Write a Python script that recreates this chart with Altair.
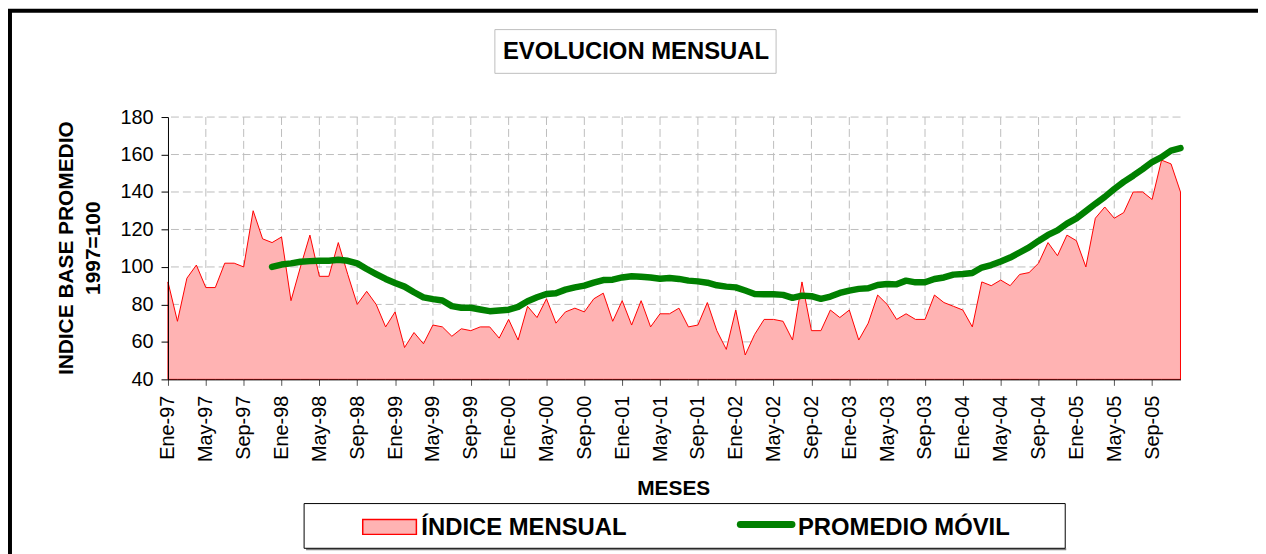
import altair as alt
import pandas as pd

# ---------------- data ----------------
indice_mensual = [
    92, 71, 94, 101, 89, 89, 102, 102, 100, 130, 115, 113,
    116, 82, 100, 117, 95, 95, 113, 96, 80, 87, 80, 68,
    76, 57, 65, 59, 69, 68, 63, 67, 66, 68, 68, 62,
    72, 61, 79, 73, 83, 70, 76, 78, 76, 83, 86, 71,
    82, 69, 82, 68, 75, 75, 78, 68, 69, 81, 66, 56,
    77, 53, 64, 72, 72, 71, 61, 92, 66, 66, 77, 73,
    77, 61, 70, 85, 80, 72, 75, 72, 72, 85, 81, 79,
    77, 68, 92, 90, 93, 90, 96, 97, 102, 113, 106, 117,
    114, 100, 126, 132, 126, 129, 140, 140, 136, 157, 155, 140,
]

# moving average, starts at month index 11 (Dic-97)
promedio_inicio = 11
promedio_movil = [
    100, 101.3, 101.9, 102.8, 103.1, 103.3, 103.3, 103.8, 103.3, 101.9, 98.9, 96.2,
    93.6, 91.4, 89.5, 86.5, 83.8, 82.8, 82.1, 79.1, 78.2, 78.2, 77.3, 76.4,
    76.8, 77.2, 78.7, 81.7, 83.8, 85.6, 86.0, 87.9, 89.1, 90.0, 91.6, 93.0,
    93.2, 94.4, 95.0, 94.8, 94.4, 93.7, 94.1, 93.6, 92.7, 92.3, 91.6, 90.2,
    89.5, 89.1, 87.4, 85.6, 85.4, 85.4, 85.1, 83.5, 84.7, 84.4, 83.0, 84.2,
    86.1, 87.4, 88.3, 88.6, 90.4, 90.9, 90.7, 92.7, 91.8, 91.8, 93.6, 94.4,
    95.9, 96.2, 96.8, 99.7, 101.0, 102.9, 105.0, 107.7, 110.4, 113.9, 117.1, 119.5,
    123.1, 125.9, 129.8, 133.7, 137.4, 141.6, 145.4, 148.7, 152.2, 156.0, 158.6, 162.1,
    163.4,
]

tick_labels = [
    "Ene-97", "May-97", "Sep-97", "Ene-98", "May-98", "Sep-98",
    "Ene-99", "May-99", "Sep-99", "Ene-00", "May-00", "Sep-00",
    "Ene-01", "May-01", "Sep-01", "Ene-02", "May-02", "Sep-02",
    "Ene-03", "May-03", "Sep-03", "Ene-04", "May-04", "Sep-04",
    "Ene-05", "May-05", "Sep-05",
]
y_ticks = [40, 60, 80, 100, 120, 140, 160, 180]

titulo = "EVOLUCION MENSUAL"
y_titulo = ["INDICE BASE PROMEDIO", "1997=100"]
x_titulo = "MESES"
leyenda = ["ÍNDICE MENSUAL", "PROMEDIO MÓVIL"]

# ---------------- tables ----------------
df = pd.DataFrame({"mes": list(range(len(indice_mensual))), "indice": indice_mensual})
df_ma = pd.DataFrame({
    "mes": list(range(promedio_inicio, promedio_inicio + len(promedio_movil))),
    "promedio": promedio_movil,
})
x_tick_values = [4 * k for k in range(len(tick_labels))]
df_xgrid = pd.DataFrame({"mes": x_tick_values[1:]})
df_ygrid = pd.DataFrame({"valor": y_ticks[1:]})

PINK = "#FFB3B3"
RED = "#FF0000"
GREEN = "#008000"
GRID = "#BDBDBD"

xscale = alt.Scale(domain=[0, len(indice_mensual) - 1], nice=False, zero=False)
yscale = alt.Scale(domain=[40, 180], nice=False, zero=False)

label_expr = "[" + ",".join(f"'{t}'" for t in tick_labels) + "][round(datum.value / 4)]"

x_axis = alt.Axis(
    values=x_tick_values, labelExpr=label_expr, labelAngle=270,
    labelAlign="right", labelBaseline="middle", labelFontSize=20,
    labelColor="black", labelPadding=10, tickSize=6, tickColor="#555555",
    domainColor="black", grid=False, title=None, zindex=1, labelOverlap=False,
)
y_axis = alt.Axis(
    values=y_ticks, labelFontSize=20, labelColor="black", labelPadding=8,
    tickSize=7, tickColor="black", domainColor="black", grid=False,
    title=None, zindex=1,
)

area = alt.Chart(df).mark_area(fill=PINK, stroke=RED, strokeWidth=1, fillOpacity=1).encode(
    x=alt.X("mes:Q", scale=xscale, axis=x_axis),
    y=alt.Y("indice:Q", scale=yscale, axis=y_axis),
    y2=alt.datum(40),
)

grid_y = alt.Chart(df_ygrid).mark_rule(color=GRID, strokeWidth=1, strokeDash=[8, 4]).encode(
    y=alt.Y("valor:Q", scale=yscale, axis=y_axis)
)
grid_x = alt.Chart(df_xgrid).mark_rule(color=GRID, strokeWidth=1, strokeDash=[8, 4]).encode(
    x=alt.X("mes:Q", scale=xscale, axis=x_axis)
)

line = alt.Chart(df_ma).mark_line(
    color=GREEN, strokeWidth=6.5, strokeCap="round", strokeJoin="round"
).encode(
    x=alt.X("mes:Q", scale=xscale, axis=x_axis),
    y=alt.Y("promedio:Q", scale=yscale, axis=y_axis),
)

one = alt.Data(values=[{"a": 1}])
OX, OY = 169, 116  # page position of plot origin


def px(v):
    return alt.value(v - OX)


def py(v):
    return alt.value(v - OY)


border = alt.Chart(one).mark_rect(filled=False, stroke="black", strokeWidth=4).encode(
    x=px(10), x2=px(1400), y=py(9), y2=py(700)
)

title_box = alt.Chart(one).mark_rect(fill="white", stroke="#BDBDBD", strokeWidth=1).encode(
    x=px(498), x2=px(781), y=py(28), y2=py(72)
)
title_txt = alt.Chart(one).mark_text(
    text=titulo, fontSize=24, fontWeight="bold", align="center", baseline="alphabetic", color="black"
).encode(x=px(640), y=py(58))

ytit1 = alt.Chart(one).mark_text(
    text=y_titulo[0], fontSize=21, fontWeight="bold", angle=270, align="center",
    baseline="alphabetic", color="black"
).encode(x=px(73), y=py(248))
ytit2 = alt.Chart(one).mark_text(
    text=y_titulo[1], fontSize=21, fontWeight="bold", angle=270, align="center",
    baseline="alphabetic", color="black"
).encode(x=px(101), y=py(248))

xtit = alt.Chart(one).mark_text(
    text=x_titulo, fontSize=21, fontWeight="bold", align="center", baseline="alphabetic", color="black"
).encode(x=px(678), y=py(496))

leg_shadow = alt.Chart(one).mark_rule(color="#808080", strokeWidth=2).encode(
    x=px(308), x2=px(1073), y=py(551)
)
leg_box = alt.Chart(one).mark_rect(fill="white", stroke="black", strokeWidth=1).encode(
    x=px(306), x2=px(1072), y=py(505), y2=py(550)
)
leg_sym1 = alt.Chart(one).mark_rect(fill=PINK, stroke=RED, strokeWidth=1.5).encode(
    x=px(365), x2=px(419), y=py(521), y2=py(536)
)
leg_txt1 = alt.Chart(one).mark_text(
    text=leyenda[0], fontSize=24, fontWeight="bold", align="left", baseline="alphabetic", color="black"
).encode(x=px(424), y=py(537))
leg_sym2 = alt.Chart(one).mark_rule(color=GREEN, strokeWidth=7, strokeCap="round").encode(
    x=px(745), x2=px(797), y=py(526)
)
leg_txt2 = alt.Chart(one).mark_text(
    text=leyenda[1], fontSize=24, fontWeight="bold", align="left", baseline="alphabetic", color="black"
).encode(x=px(803), y=py(537))

chart = alt.layer(
    grid_y, grid_x, area, line,
    border, title_box, title_txt, ytit1, ytit2, xtit,
    leg_shadow, leg_box, leg_sym1, leg_txt1, leg_sym2, leg_txt2,
).properties(
    width=1019, height=264,
    padding={"left": 161, "top": 108, "right": 78, "bottom": 174},
    autosize=alt.AutoSizeParams(type="none"),
    background="white",
).configure(font="Liberation Sans").configure_view(stroke=None)

chart.save("out.html", embed_options={"renderer": "svg", "actions": False})
